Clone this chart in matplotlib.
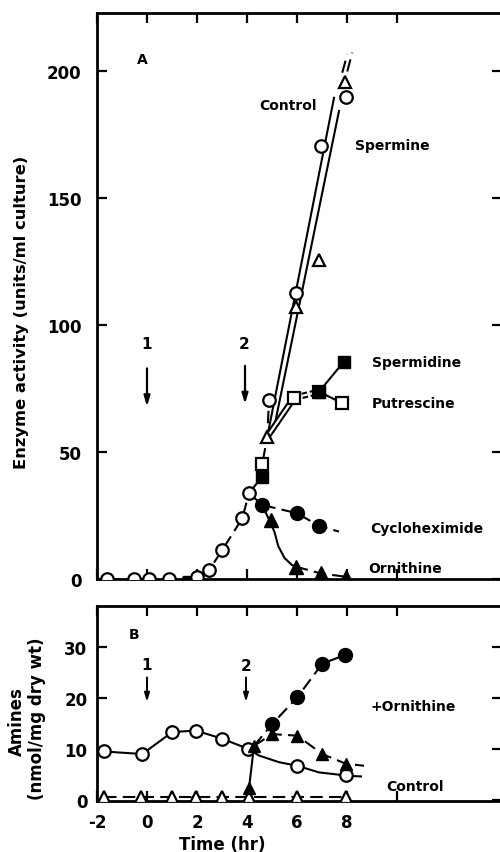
import matplotlib
matplotlib.use('Agg')
import matplotlib.pyplot as plt
import matplotlib.patheffects as pe

plt.rcParams['font.family'] = ['DejaVu Sans']
plt.rcParams['font.weight'] = 'bold'

# ---- Panel A: enzyme activity (units/ml culture) ----
# open circles before the split (time in hr)
early_t = [-1.59, -0.52, 0.08, 0.88, 2.01, 2.48, 3.01, 3.81, 4.08]
early_y = [0, 0, 0, 0, 1, 3.5, 11.4, 23.9, 33.8]
early_sq_t = [1.55]
early_sq_y = [0]

# control (open circles) and spermine (open triangles)
ctrl_t = [4.88, 5.95, 6.95, 7.95]
ctrl_y = [70.6, 112.9, 170.8, 190.0]
sperm_t = [4.81, 5.95, 6.88, 7.92]
sperm_y = [56.0, 107.0, 125.8, 196.0]
# hand drawn straight lines through control / spermine
ctrl_line_t = [4.85, 7.48]
ctrl_line_y = [58.0, 189.6]
ctrl_tail_t = [7.81, 8.01]
ctrl_tail_y = [199.5, 206.7]
sperm_line_t = [5.05, 7.68]
sperm_line_y = [58.0, 184.4]
sperm_tail_t = [8.01, 8.21]
sperm_tail_y = [200.0, 207.4]

# spermidine (filled squares) / putrescine (open squares)
spd_t = [4.61, 6.88, 7.88]
spd_y = [40.4, 73.8, 85.7]
put_t = [4.61, 5.88, 6.88, 7.81]
put_y = [45.3, 71.4, 73.8, 69.3]

# cycloheximide (filled circles)
cyc_t = [4.61, 6.01, 6.88]
cyc_y = [29.2, 25.9, 20.9]
cyc_tail_t = [7.68]
cyc_tail_y = [18.7]

# ornithine (filled triangles) with curve
orn_t = [4.95, 5.95, 6.95, 7.95]
orn_y = [23.3, 4.9, 2.2, 0.9]
orn_curve_t = [4.97, 5.1, 5.25, 5.5, 5.8]
orn_curve_y = [21.5, 18.5, 13.0, 8.3, 5.5]

# ---- Panel B: amines (nmol/mg dry wt) ----
b_ctrl_t = [-1.72, -0.19, 1.01, 1.95, 3.01, 4.05, 6.01, 7.95]
b_ctrl_y = [9.5, 9.0, 13.3, 13.6, 12.0, 10.0, 6.7, 4.8]
b_ctrl_curve_t = [4.05, 4.48, 5.28, 6.01, 6.88, 7.95]
b_ctrl_curve_y = [10.0, 8.7, 7.4, 6.7, 5.4, 4.8]
b_ctrl_tail_t = [8.2, 8.6]
b_ctrl_tail_y = [4.7, 4.6]

b_tri_t = [-1.72, -0.25, 1.01, 1.95, 3.01, 4.08, 6.01, 7.95]
b_tri_y = [0.5, 0.5, 0.5, 0.5, 0.5, 0.5, 0.5, 0.5]

b_orn_tri_t = [4.08, 4.28, 5.01, 6.01, 7.01, 7.95]
b_orn_tri_y = [2.3, 10.6, 12.9, 12.6, 9.0, 7.1]
b_orn_tri_tail_t = [8.68]
b_orn_tri_tail_y = [6.7]
b_orn_circ_t = [5.01, 6.01, 7.01, 7.92]
b_orn_circ_y = [14.9, 20.1, 26.7, 28.4]

x_ticks = [-2, 0, 2, 4, 6, 8, 10]
x_labels = ['-2', '0', '2', '4', '6', '8', '']
a_ticks = [0, 50, 100, 150, 200]
b_ticks = [0, 10, 20, 30]

LW = 1.5
MS = 9
MEW = 1.6
DASH = (6, 3)

fig = plt.figure(figsize=(5, 8.53), dpi=100)
axA = fig.add_axes([0.194, 0.3200, 0.81, 0.6635])
axB = fig.add_axes([0.194, 0.0598, 0.81, 0.2286])


def style(ax, yticks, pad):
    ax.set_xlim(-2, 14.2)
    ax.set_xticks(x_ticks)
    ax.set_yticks(yticks)
    for s in ax.spines.values():
        s.set_linewidth(2)
    ax.tick_params(direction='in', length=7, width=1.6, top=True, right=True,
                   labelsize=12, pad=pad)


def dline(ax, t, y, **kw):
    ax.plot(t, y, color='k', lw=LW, dashes=DASH, **kw)


# ---------- Panel A ----------
style(axA, a_ticks, 11)
axA.set_ylim(0, 223)
axA.set_xticklabels([])

dline(axA, early_t, early_y, zorder=2)
axA.plot(early_t, early_y, 'o', ms=MS, mfc='white', mec='k', mew=MEW, zorder=4)
axA.plot(early_sq_t, early_sq_y, 's', ms=4, color='k', zorder=4)

# trunk from peak up to the branching point
dline(axA, [early_t[-1]] + [spd_t[0], put_t[0], sperm_t[0], ctrl_t[0]],
      [early_y[-1]] + [spd_y[0], put_y[0], sperm_y[0], ctrl_y[0]], zorder=2)

axA.plot(ctrl_line_t, ctrl_line_y, color='k', lw=LW, zorder=2)
dline(axA, ctrl_tail_t, ctrl_tail_y, zorder=2)
axA.plot(sperm_line_t, sperm_line_y, color='k', lw=LW, zorder=2)
dline(axA, sperm_tail_t, sperm_tail_y, zorder=2)
axA.plot(ctrl_t, ctrl_y, 'o', ms=MS, mfc='white', mec='k', mew=MEW, zorder=4)
axA.plot(sperm_t, sperm_y, '^', ms=MS, mfc='white', mec='k', mew=MEW, zorder=4)

# double line to the squares
dbl = [pe.Stroke(linewidth=4.6, foreground='k'), pe.Stroke(linewidth=1.6, foreground='white')]
axA.plot([sperm_t[0], put_t[1]], [sperm_y[0], put_y[1]], color='k', lw=1,
         path_effects=dbl, zorder=2)
axA.plot([put_t[1], put_t[2]], [put_y[1], put_y[2]], color='k', lw=1, dashes=(4, 2),
         path_effects=dbl, zorder=2)
axA.plot([spd_t[1], spd_t[2]], [spd_y[1], spd_y[2]], color='k', lw=LW, zorder=2)
axA.plot([put_t[2], put_t[3]], [put_y[2], put_y[3]], color='k', lw=LW, zorder=2)
axA.plot(put_t, put_y, 's', ms=MS - 1, mfc='white', mec='k', mew=MEW, zorder=4)
axA.plot(spd_t, spd_y, 's', ms=MS - 1, color='k', zorder=5)

dline(axA, [early_t[-1]] + cyc_t + cyc_tail_t, [early_y[-1]] + cyc_y + cyc_tail_y, zorder=2)
axA.plot(cyc_t, cyc_y, 'o', ms=MS + 1, color='k', zorder=4)

axA.plot([cyc_t[0]] + orn_curve_t + [orn_t[1]], [cyc_y[0]] + orn_curve_y + [orn_y[1]],
         color='k', lw=LW, zorder=2)
dline(axA, orn_t[1:], orn_y[1:], zorder=2)
axA.plot(orn_t, orn_y, '^', ms=MS + 1, color='k', zorder=4)

axA.text(-0.2, 205, 'A', fontsize=10, ha='center', va='center')
axA.text(5.64, 186.7, 'Control', fontsize=10, ha='center', va='center')
axA.text(8.32, 171, 'Spermine', fontsize=10, ha='left', va='center')
axA.text(9.0, 85.4, 'Spermidine', fontsize=10, ha='left', va='center')
axA.text(9.0, 69.2, 'Putrescine', fontsize=10, ha='left', va='center')
axA.text(8.92, 20.3, 'Cycloheximide', fontsize=10, ha='left', va='center')
axA.text(8.84, 4.5, 'Ornithine', fontsize=10, ha='left', va='center')

arr = dict(arrowstyle='-|>,head_width=0.18,head_length=0.6', color='k', lw=1.6,
           shrinkA=0, shrinkB=0)
axA.text(0, 93, '1', fontsize=11, ha='center', va='center')
axA.annotate('', xy=(0, 68), xytext=(0, 83), arrowprops=arr)
axA.text(3.9, 93, '2', fontsize=11, ha='center', va='center')
axA.annotate('', xy=(3.92, 69), xytext=(3.92, 84), arrowprops=arr)

# ---------- Panel B ----------
style(axB, b_ticks, 7)
axB.set_ylim(-0.2, 38)
axB.set_xticklabels(x_labels)
axB.tick_params(axis='x', pad=9)

axB.plot(b_ctrl_t[:6], b_ctrl_y[:6], color='k', lw=LW, zorder=2)
axB.plot(b_ctrl_curve_t, b_ctrl_curve_y, color='k', lw=LW, zorder=2)
dline(axB, b_ctrl_tail_t, b_ctrl_tail_y, zorder=2)
axB.plot(b_ctrl_t, b_ctrl_y, 'o', ms=MS, mfc='white', mec='k', mew=MEW, zorder=4)

dline(axB, b_tri_t, b_tri_y, zorder=2)
axB.plot(b_tri_t, b_tri_y, '^', ms=MS - 1, mfc='white', mec='k', mew=MEW, zorder=4)

axB.plot(b_orn_tri_t[:2], b_orn_tri_y[:2], color='k', lw=LW, zorder=2)
dline(axB, b_orn_tri_t[1:] + b_orn_tri_tail_t, b_orn_tri_y[1:] + b_orn_tri_tail_y, zorder=2)
dline(axB, [b_orn_tri_t[1]] + b_orn_circ_t, [b_orn_tri_y[1]] + b_orn_circ_y, zorder=2)
axB.plot(b_orn_tri_t, b_orn_tri_y, '^', ms=MS, color='k', zorder=4)
axB.plot(b_orn_circ_t, b_orn_circ_y, 'o', ms=MS + 1, color='k', zorder=5)

axB.text(-0.52, 32.5, 'B', fontsize=10, ha='center', va='center')
axB.text(8.96, 18.4, '+Ornithine', fontsize=10, ha='left', va='center')
axB.text(9.56, 2.7, 'Control', fontsize=10, ha='left', va='center')
arr_b = dict(arrowstyle='-|>,head_width=0.15,head_length=0.5', color='k', lw=1.4,
             shrinkA=0, shrinkB=0)
axB.text(0, 26.5, '1', fontsize=11, ha='center', va='center')
axB.annotate('', xy=(0, 19.2), xytext=(0, 24), arrowprops=arr_b)
axB.text(3.96, 26.3, '2', fontsize=11, ha='center', va='center')
axB.annotate('', xy=(3.96, 19.2), xytext=(3.96, 24), arrowprops=arr_b)

fig.text(0.044, 1 - 312 / 853, 'Enzyme activity (units/ml culture)', rotation=90,
         fontsize=11.8, ha='center', va='center')
fig.text(0.034, 1 - 722 / 853, 'Amines', rotation=90, fontsize=12, ha='center', va='center')
fig.text(0.074, 1 - 719 / 853, '(nmol/mg dry wt)', rotation=90, fontsize=12,
         ha='center', va='center')
fig.text(0.444, 1 - 845 / 853, 'Time (hr)', fontsize=12, ha='center', va='center')

fig.savefig('out.png', dpi=100)
